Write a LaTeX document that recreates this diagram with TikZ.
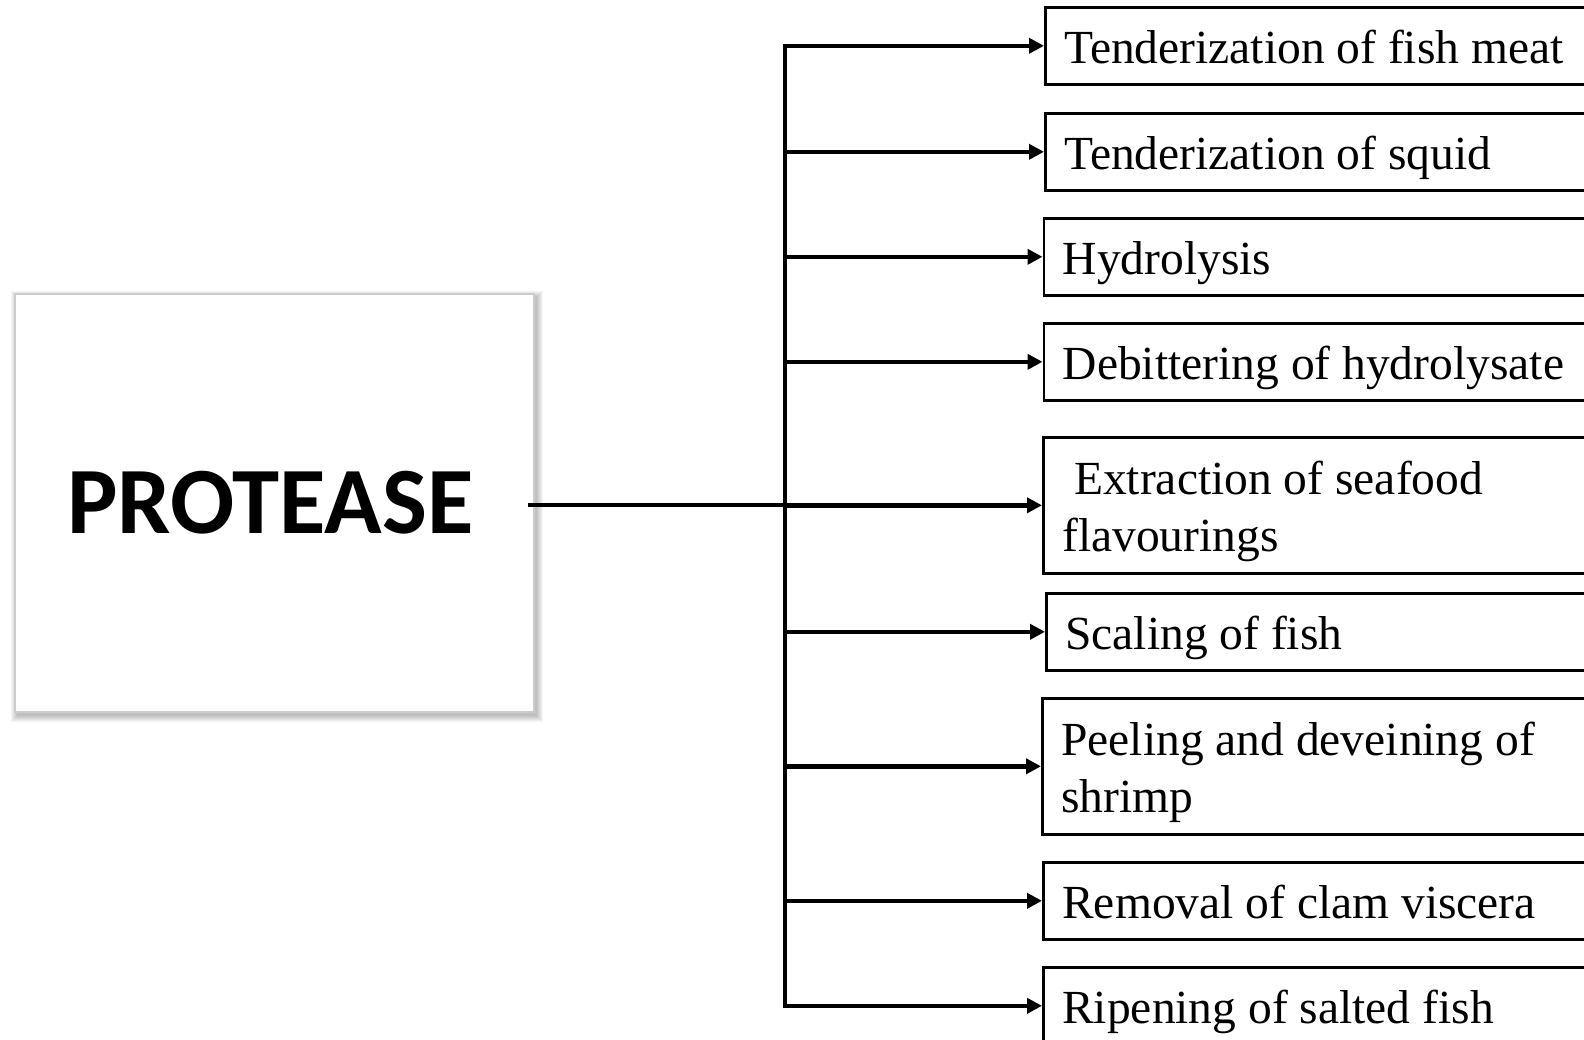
\documentclass[tikz,border=0pt]{standalone}
\usepackage{fontspec}
\setmainfont{Liberation Serif}
\newfontfamily\headfont{Carlito}
\usetikzlibrary{arrows.meta,calc}

\tikzset{
  conn/.style={line width=4.5pt, draw=black},
  arr/.style={conn, -{Triangle[length=15pt,width=15pt]}},
  usebox/.style={draw, line width=2.6pt, anchor=north west, text width=600pt,
    align=left, inner xsep=19pt, inner ysep=0pt,
    font=\fontsize{47.5}{57}\selectfont,
    execute at begin node={\spaceskip=0pt\xspaceskip=0pt\relax}},
  oneline/.style={usebox, minimum height=77pt, text height=40pt, text depth=5pt},
  twoline/.style={usebox, minimum height=136pt, text height=40pt, text depth=62pt},
  mainbox/.style={draw=gray!40, line width=1.6pt, fill=white,
    minimum width=519pt, minimum height=418pt, inner sep=0pt,
    font=\headfont\bfseries\fontsize{95}{100}\selectfont},
}

\begin{document}
\begin{tikzpicture}[x=1pt,y=-1pt]
\useasboundingbox (0,0) rectangle (1584,1039);
\clip (0,0) rectangle (1584,1039);

% soft drop shadow of the enzyme box
\foreach \k in {0,...,6}
  \fill[black, opacity=0.04] (17-\k,297-\k) rectangle (537+\k,716+\k);

\node[mainbox] (prot) at (274.5,503) {PROTEASE\hspace*{8pt}};

% application boxes
\node[oneline] (b1) at (1044,6)     {Tenderization of fish meat};
\node[oneline] (b2) at (1044,112)   {Tenderization of squid};
\node[oneline] (b3) at (1042.5,217) {Hydrolysis};
\node[oneline] (b4) at (1042.5,322) {Debittering of hydrolysate};
\node[twoline] (b5) at (1042,436)   {\ Extraction of seafood\\flavourings};
\node[oneline] (b6) at (1045,592)   {Scaling of fish};
\node[twoline] (b7) at (1041,697)   {Peeling and deveining of\\shrimp};
\node[oneline] (b8) at (1042,861)   {Removal of clam viscera};
\node[oneline] (b9) at (1042,966)   {Ripening of salted fish};

% distribution bus
\coordinate (trunk) at (785,505);
\path (prot.east) ++(-7,0) coordinate (pe);
\draw[conn] (pe |- trunk) -- (trunk);
\draw[conn, line cap=rect] (b1.west -| trunk) -- (b9.west -| trunk);
\foreach \i in {1,...,9}
  \draw[arr] (b\i.west -| trunk) -- (b\i.west);
\end{tikzpicture}
\end{document}
